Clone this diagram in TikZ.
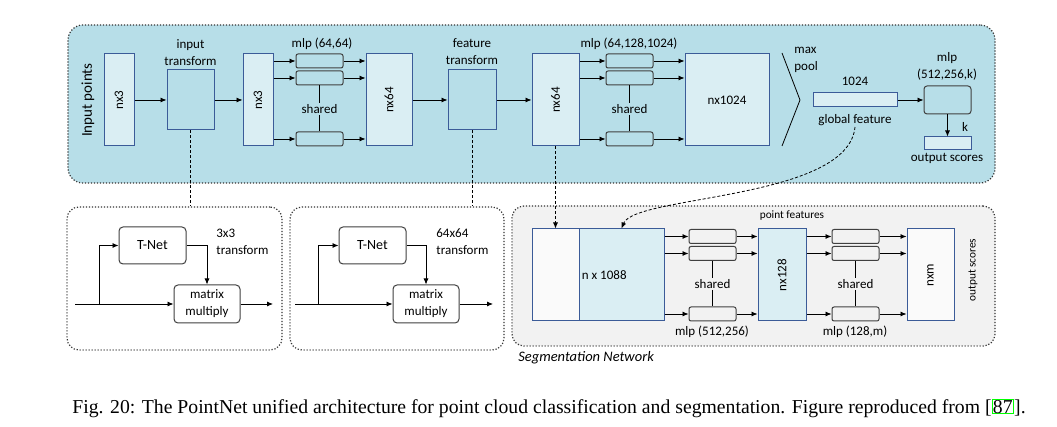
\documentclass[tikz,border=0pt]{standalone}
\usepackage{fontspec}
\setmainfont{Carlito}
\newfontfamily\capfont{Liberation Serif}
\usetikzlibrary{arrows.meta,positioning}
\definecolor{panelblue}{HTML}{B7DEE8}
\definecolor{boxblue}{HTML}{DAEEF3}
\definecolor{edgeblue}{HTML}{3B5B98}
\definecolor{seggray}{HTML}{F2F2F2}
\definecolor{linkgreen}{HTML}{00FF00}

\begin{document}
\begin{tikzpicture}[x=1pt,y=-1pt,>={Latex[length=6pt,width=5pt]},line width=0.8pt,
  font=\fontsize{13}{17}\selectfont,
  area/.style={draw=black!80,line width=1.2pt,dash pattern=on 1.2pt off 1.8pt,rounded corners=12pt,inner sep=0pt},
  blk/.style={draw=edgeblue,fill=boxblue,line width=1pt,inner sep=0pt,minimum width=#1,minimum height=92pt},
  mlp/.style={draw=black!75,fill=panelblue,line width=1pt,rounded corners=2pt,inner sep=0pt,minimum width=47pt,minimum height=14pt},
  tnet/.style={draw=black!75,fill=white,line width=1pt,rounded corners=4pt,align=center,inner sep=0pt,minimum width=67pt,minimum height=37pt},
  lab/.style={align=center,inner sep=1pt},
  small/.style={font=\fontsize{11.3}{13}\selectfont},
  dsh/.style={dash pattern=on 3pt off 2pt}]
\useasboundingbox (0,0) rectangle (1057,427);

% panels
\node (cls) [area,fill=panelblue,minimum width=927pt,minimum height=158pt,rounded corners=15pt] at (531.5,104) {};
\node (tn1) [area,fill=white,minimum width=215pt,minimum height=143pt] at (174.5,278.5) {};
\node (tn2) [area,fill=white,minimum width=214pt,minimum height=143pt] at (397,278.5) {};
\node (seg) [area,fill=seggray,minimum width=483pt,minimum height=140pt] at (753.5,276) {};

% classification network
\node (inpts) [rotate=90,font=\fontsize{15}{17}\selectfont] at (88,100) {Input points};
\node (in3) [blk=30pt,label={[rotate=90]center:nx3}] at (119,100) {};
\node (itf) [blk=47pt,minimum height=60pt,fill=panelblue] at (190.5,100) {};
\node (itflab) [lab] at (190.5,53) {input\\transform};
\node (in3b) [blk=30pt,label={[rotate=90]center:nx3}] at (258,100) {};
\node (m1a) [mlp] at (319.5,61) {};
\node (m1b) [mlp] at (319.5,78) {};
\node (m1c) [mlp] at (319.5,139) {};
\node (m1lab) [lab] at (322,44) {mlp (64,64)};
\node (sh1) [lab] at (319.5,109) {shared};
\node (f64a) [blk=46pt,label={[rotate=90]center:nx64}] at (389,100) {};
\node (ftf) [blk=48pt,minimum height=60pt,fill=panelblue] at (472,100) {};
\node (ftflab) [lab] at (472,52) {feature\\transform};
\node (f64b) [blk=47pt,label={[rotate=90]center:nx64}] at (555.5,100) {};
\node (m2a) [mlp] at (629.5,61) {};
\node (m2b) [mlp] at (629.5,78) {};
\node (m2c) [mlp] at (629.5,139) {};
\node (m2lab) [lab] at (629,44) {mlp (64,128,1024)};
\node (sh2) [lab] at (629.5,109) {shared};
\node (f1024) [blk=84pt] at (727,100) {nx1024};
\coordinate (mp) at (800,100);
\draw (782,53) -- (mp) -- (782,146);
\node (mplab) [lab,align=left,anchor=west] at (793,60) {max\\pool};
\node (gf) [blk=84pt,minimum height=14pt] at (855,100) {};
\node (gfnum) [lab] at (855,81) {1024};
\node (gflab) [lab] at (855,120) {global feature};
\node (mlpc) [mlp,minimum height=28pt,rounded corners=3pt] at (947.5,100) {};
\node (mlpclab) [lab] at (947,66) {mlp\\(512,256,k)};
\node (outs) [blk=47pt,minimum height=13pt] at (947.5,143.5) {};
\node (klab) [lab] at (965,127) {k};
\node (outslab) [lab] at (947,158) {output scores};

\draw[->] (in3) -- (itf);
\draw[->] (itf) -- (in3b);
\draw[->] (in3b.east |- m1a) -- (m1a);
\draw[->] (in3b.east |- m1b) -- (m1b);
\draw[->] (in3b.east |- m1c) -- (m1c);
\draw[->] (m1a) -- (f64a.west |- m1a);
\draw[->] (m1b) -- (f64a.west |- m1b);
\draw[->] (m1c) -- (f64a.west |- m1c);
\draw (m1b) -- (sh1);
\draw (sh1) -- (m1c);
\draw[->] (f64a) -- (ftf);
\draw[->] (ftf) -- (f64b);
\draw[->] (f64b.east |- m2a) -- (m2a);
\draw[->] (f64b.east |- m2b) -- (m2b);
\draw[->] (f64b.east |- m2c) -- (m2c);
\draw[->] (m2a) -- (f1024.west |- m2a);
\draw[->] (m2b) -- (f1024.west |- m2b);
\draw[->] (m2c) -- (f1024.west |- m2c);
\draw (m2b) -- (sh2);
\draw (sh2) -- (m2c);
\draw[->] (gf) -- (mlpc);
\draw[->] (mlpc) -- (outs);

% transform nets
\node (tnet1) [tnet,font=\fontsize{14}{17}\selectfont] at (152.5,245.5) {T-Net};
\node (tr1lab) [lab,align=left,anchor=west] at (215,242) {3x3\\transform};
\node (mm1) [tnet,minimum width=66pt,minimum height=38pt] at (207,304) {matrix\\multiply};
\coordinate (in1) at (75,304);
\coordinate (br1) at (99,304);
\coordinate (out1) at (273,304);
\draw[->] (in1) -- (mm1);
\draw[->] (br1) |- (tnet1);
\draw[->] (tnet1) -| (mm1);
\draw[->] (mm1) -- (out1);

\node (tnet2) [tnet,font=\fontsize{14}{17}\selectfont] at (372.5,245.5) {T-Net};
\node (tr2lab) [lab,align=left,anchor=west] at (435,242) {64x64\\transform};
\node (mm2) [tnet,minimum width=66pt,minimum height=38pt] at (426,304) {matrix\\multiply};
\coordinate (in2) at (295,304);
\coordinate (br2) at (318,304);
\coordinate (out2) at (493,304);
\draw[->] (in2) -- (mm2);
\draw[->] (br2) |- (tnet2);
\draw[->] (tnet2) -| (mm2);
\draw[->] (mm2) -- (out2);

\draw[dsh] (itf.south) -- (itf.south |- tn1.north);
\draw[dsh] (ftf.south) -- (ftf.south |- tn2.north);

% segmentation network
\node (seglab) [lab,anchor=west,font=\fontsize{14.5}{16}\selectfont\itshape] at (517,358) {Segmentation Network};
\node (pflab) [lab,small] at (792,216) {point features};
\node (lp) [blk=47pt,fill=seggray!40!white] at (555.5,275) {};
\node (n1088) [blk=85pt] at (621.5,275) {};
\node (n1088lab) [lab,right=2pt of n1088.west] {n x 1088};
\node (m3a) [mlp,fill=seggray] at (712.5,236.5) {};
\node (m3b) [mlp,fill=seggray] at (712.5,253.5) {};
\node (m3c) [mlp,fill=seggray] at (712.5,314) {};
\node (sh3) [lab] at (712.5,284) {shared};
\node (m3lab) [lab] at (712,332) {mlp (512,256)};
\node (n128) [blk=48pt,label={[rotate=90]center:nx128}] at (782,275) {};
\node (m4a) [mlp,fill=seggray] at (855.5,236.5) {};
\node (m4b) [mlp,fill=seggray] at (855.5,253.5) {};
\node (m4c) [mlp,fill=seggray] at (855.5,314) {};
\node (sh4) [lab] at (855.5,284) {shared};
\node (m4lab) [lab] at (855,332) {mlp (128,m)};
\node (nxm) [blk=47pt,fill=seggray!40!white,label={[rotate=90]center:nxm}] at (930.5,275) {};
\node (segout) [rotate=90,small] at (973,270) {output scores};

\draw[->] (n1088.east |- m3a) -- (m3a);
\draw[->] (n1088.east |- m3b) -- (m3b);
\draw[->] (n1088.east |- m3c) -- (m3c);
\draw[->] (m3a) -- (n128.west |- m3a);
\draw[->] (m3b) -- (n128.west |- m3b);
\draw[->] (m3c) -- (n128.west |- m3c);
\draw (m3b) -- (sh3);
\draw (sh3) -- (m3c);
\draw[->] (n128.east |- m4a) -- (m4a);
\draw[->] (n128.east |- m4b) -- (m4b);
\draw[->] (n128.east |- m4c) -- (m4c);
\draw[->] (m4a) -- (nxm.west |- m4a);
\draw[->] (m4b) -- (nxm.west |- m4b);
\draw[->] (m4c) -- (nxm.west |- m4c);
\draw (m4b) -- (sh4);
\draw (sh4) -- (m4c);

\draw[dsh,->] (f64b.south) -- (lp.north);
\draw[dsh,->] (gflab.south) .. controls (848,200) and (635,195) .. (n1088.north);

% caption
\node (cap) [anchor=base west,inner sep=0pt,font=\capfont\fontsize{19.7}{22}\selectfont] at (72,413) {Fig. 20: The PointNet unified architecture for point cloud classification and segmentation. Figure reproduced from [};
\node (ref) [anchor=base west,inner sep=0.5pt,draw=linkgreen,line width=1.2pt,font=\capfont\fontsize{19.7}{22}\selectfont] at (cap.base east) {87};
\node (capend) [anchor=base west,inner sep=0pt,font=\capfont\fontsize{19.7}{22}\selectfont] at (ref.base east) {].};
\end{tikzpicture}
\end{document}
